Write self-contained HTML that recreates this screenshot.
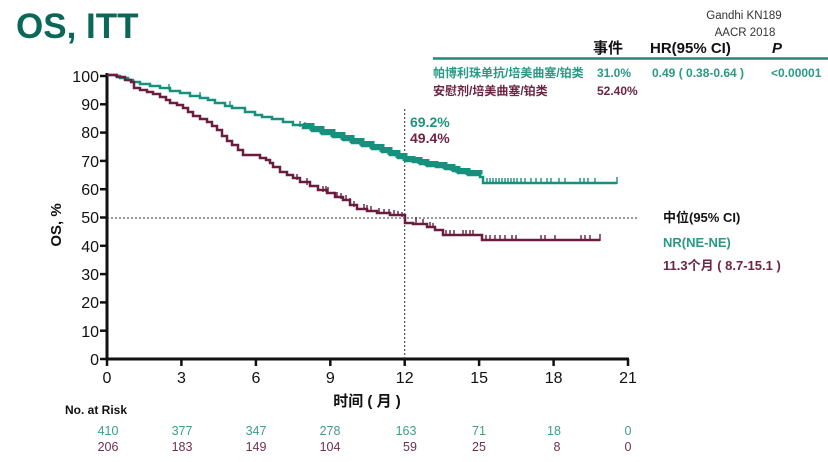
<!DOCTYPE html>
<html><head><meta charset="utf-8"><style>
html,body{margin:0;padding:0;background:#fff;}
svg{display:block;}
text{font-family:"Liberation Sans","Noto Sans CJK SC",sans-serif;}
</style></head><body>
<svg width="828" height="462" viewBox="0 0 828 462" xmlns="http://www.w3.org/2000/svg">
<rect width="828" height="462" fill="#fff"/>
<!-- title -->
<text x="16" y="38" font-size="35" font-weight="bold" fill="#0b6757">OS, ITT</text>
<text x="744" y="19" font-size="11.5" fill="#333" text-anchor="middle">Gandhi KN189</text>
<text x="745" y="36" font-size="11.5" fill="#333" text-anchor="middle">AACR 2018</text>
<!-- table header -->
<text x="593" y="53" font-size="15" font-weight="bold" fill="#111">事件</text>
<text x="650" y="53" font-size="15" font-weight="bold" fill="#111">HR(95% CI)</text>
<text x="772" y="53" font-size="15" font-weight="bold" font-style="italic" fill="#111">P</text>
<line x1="433" y1="58.5" x2="828" y2="58.5" stroke="#1f8a78" stroke-width="2.5"/>
<text x="433" y="77" font-size="12" font-weight="bold" fill="#2a9a85">帕博利珠单抗/培美曲塞/铂类</text>
<text x="597" y="77" font-size="12" font-weight="bold" fill="#2a9a85">31.0%</text>
<text x="652" y="77" font-size="12" font-weight="bold" fill="#2a9a85">0.49 ( 0.38-0.64 )</text>
<text x="771" y="77" font-size="12" font-weight="bold" fill="#2a9a85">&lt;0.00001</text>
<text x="433" y="95" font-size="12" font-weight="bold" fill="#6e2545">安慰剂/培美曲塞/铂类</text>
<text x="597" y="95" font-size="12" font-weight="bold" fill="#6e2545">52.40%</text>

<!-- axes -->
<line x1="107" y1="73" x2="107" y2="360.5" stroke="#111" stroke-width="3"/>
<line x1="105.5" y1="359" x2="629" y2="359" stroke="#111" stroke-width="3"/>
<g stroke="#111" stroke-width="2.5">
<line x1="100" y1="76" x2="107" y2="76"/>
<line x1="100" y1="104.3" x2="107" y2="104.3"/>
<line x1="100" y1="132.6" x2="107" y2="132.6"/>
<line x1="100" y1="160.9" x2="107" y2="160.9"/>
<line x1="100" y1="189.2" x2="107" y2="189.2"/>
<line x1="100" y1="217.5" x2="107" y2="217.5"/>
<line x1="100" y1="245.8" x2="107" y2="245.8"/>
<line x1="100" y1="274.1" x2="107" y2="274.1"/>
<line x1="100" y1="302.4" x2="107" y2="302.4"/>
<line x1="100" y1="330.7" x2="107" y2="330.7"/>
<line x1="100" y1="359" x2="107" y2="359"/>
<line x1="107" y1="359" x2="107" y2="366"/>
<line x1="181.4" y1="359" x2="181.4" y2="366"/>
<line x1="255.9" y1="359" x2="255.9" y2="366"/>
<line x1="330.3" y1="359" x2="330.3" y2="366"/>
<line x1="404.7" y1="359" x2="404.7" y2="366"/>
<line x1="479.1" y1="359" x2="479.1" y2="366"/>
<line x1="553.6" y1="359" x2="553.6" y2="366"/>
<line x1="628" y1="359" x2="628" y2="366"/>
</g>
<g font-size="16" fill="#111" text-anchor="end">
<text x="99" y="82">100</text>
<text x="99" y="110">90</text>
<text x="99" y="138">80</text>
<text x="99" y="167">70</text>
<text x="99" y="195">60</text>
<text x="99" y="223">50</text>
<text x="99" y="252">40</text>
<text x="99" y="280">30</text>
<text x="99" y="308">20</text>
<text x="99" y="337">10</text>
<text x="99" y="365">0</text>
</g>
<g font-size="16" fill="#111" text-anchor="middle">
<text x="107" y="383">0</text>
<text x="181.4" y="383">3</text>
<text x="255.9" y="383">6</text>
<text x="330.3" y="383">9</text>
<text x="404.7" y="383">12</text>
<text x="479.1" y="383">15</text>
<text x="553.6" y="383">18</text>
<text x="628" y="383">21</text>
</g>
<text x="367" y="406" font-size="15" font-weight="bold" fill="#111" text-anchor="middle">时间 ( 月 )</text>
<text transform="translate(61,225) rotate(-90)" font-size="15" font-weight="bold" fill="#111" text-anchor="middle">OS, %</text>

<!-- reference lines -->
<line x1="107" y1="218" x2="637" y2="218" stroke="#333" stroke-width="1" stroke-dasharray="2,2"/>
<line x1="404.7" y1="109" x2="404.7" y2="359" stroke="#333" stroke-width="1" stroke-dasharray="2,2"/>

<!-- teal curve -->
<g fill="none" stroke="#17917e" stroke-linejoin="miter">
<path stroke-width="2.5" d="M107,75 H116 V76 H120 V78 H128 V80 H133 V82 H140 V84 H150 V86 H160 V88 H170 V91 H180 V93 H190 V96 H200 V98 H208 V100 H215 V103 H225 V106 H232 V108 H245 V112 H255 V115 H262 V117 H272 V119 H283 V122 H293 V125 H303 V128 H312 V131 H322 V134 H333 V137 H343 V140 H352 V143 H362 V146 H372 V149 H382 V152 H390 V155 H398 V158 H405 V161 H413 V162 H420 V164 H427 V166 H436 V167 H445 V169 H453 V171 H458 V173 H468 V175 H480 V177 H483 V183 H617"/>
<path stroke-width="5" d="M303,125.5 H312 V128.5 H322 V131.5 H333 V134.5 H343 V137.5 H352 V140.5 H362 V143.5 H372 V146.5 H382 V149.5 H390 V152.5 H398 V155.5 H405 V158.5 H413 V159.5 H420 V161.5 H427 V163.5 H436 V164.5 H445 V166.5 H453 V168.5 H458 V170.5 H468 V172.5 H480 V174.5"/>
<path stroke-width="1.4" d="M169,90 v-6 M200,98 v-6 M230,107 v-6 M300,127 v-6 M305,128 v-6 M318,131 v-5 M328,135 v-5 M345,140 v-5 M360,145 v-5 M375,150 v-5 M395,156 v-5 M410,161 v-5 M418,163 v-6 M425,165 v-5 M432,167 v-6 M440,168 v-5 M447,169 v-5 M455,171 v-5 M462,173 v-5 M471,175 v-5 M476,176 v-5 M487,183 v-5 M490,183 v-5 M493,183 v-5 M496,183 v-5 M499,183 v-5 M502,183 v-5 M505,183 v-5 M508,183 v-5 M511,183 v-5 M514,183 v-5 M517,183 v-5 M521,183 v-5 M525,183 v-5 M531,183 v-5 M536,183 v-5 M541,183 v-5 M547,183 v-5 M551,183 v-5 M559,183 v-5 M565,183 v-5 M580,183 v-5 M584,183 v-5 M588,183 v-5 M595,183 v-5 M617,184 v-7"/>
</g>

<!-- maroon curve -->
<g fill="none" stroke="#6a1d3e">
<path stroke-width="2.5" d="M107,75 H117 V77 H125 V80 H131 V82 H134 V88 H140 V90 H147 V92 H153 V94 H160 V97 H166 V100 H170 V103 H177 V105 H183 V108 H188 V112 H193 V116 H200 V119 H207 V122 H212 V126 H217 V130 H222 V136 H227 V141 H232 V145 H238 V150 H243 V155 H260 V158 H266 V160 H270 V163 H273 V167 H280 V172 H287 V175 H293 V178 H300 V182 H310 V186 H318 V190 H327 V193 H335 V197 H343 V200 H350 V205 H357 V209 H367 V211 H377 V213 H390 V215 H405 V218 V223 H413 V224 H427 V227 H435 V230 H443 V235 H482 V240 H600"/>
<path stroke-width="1.4" d="M297,180 v-6 M307,185 v-7 M323,192 v-6 M326,192 v-6 M328,193 v-6 M337,198 v-6 M341,199 v-6 M346,201 v-6 M350,204 v-6 M354,207 v-6 M364,210 v-6 M367,211 v-6 M371,212 v-6 M379,213 v-5 M384,214 v-5 M389,214 v-5 M394,215 v-5 M398,216 v-5 M402,217 v-5 M416,223 v-6 M423,224 v-5 M430,227 v-5 M433,228 v-5 M446,235 v-5 M450,235 v-5 M454,235 v-5 M463,235 v-5 M466,235 v-5 M470,235 v-5 M473,235 v-5 M486,240 v-5 M490,240 v-5 M495,240 v-5 M500,240 v-5 M505,240 v-5 M512,240 v-5 M516,240 v-5 M541,240 v-5 M545,240 v-5 M555,240 v-5 M581,240 v-5 M585,240 v-5 M590,240 v-5 M600,241 v-7"/>
</g>

<!-- annotations -->
<text x="410" y="127" font-size="14" font-weight="bold" fill="#1f917e">69.2%</text>
<text x="410" y="143" font-size="14" font-weight="bold" fill="#6e2545">49.4%</text>
<text x="663" y="222" font-size="13" font-weight="bold" fill="#111">中位(95% CI)</text>
<text x="663" y="247" font-size="13" font-weight="bold" fill="#2a9a85">NR(NE-NE)</text>
<text x="663" y="270" font-size="13" font-weight="bold" fill="#6e2545">11.3个月 ( 8.7-15.1 )</text>

<!-- at risk -->
<text x="65" y="414" font-size="12" font-weight="bold" fill="#111">No. at Risk</text>
<g font-size="12.5" fill="#3a9f8a" text-anchor="middle">
<text x="108" y="435">410</text>
<text x="182" y="435">377</text>
<text x="256" y="435">347</text>
<text x="330" y="435">278</text>
<text x="406" y="435">163</text>
<text x="479" y="435">71</text>
<text x="554" y="435">18</text>
<text x="628" y="435">0</text>
</g>
<g font-size="12.5" fill="#6e3050" text-anchor="middle">
<text x="108" y="451">206</text>
<text x="182" y="451">183</text>
<text x="256" y="451">149</text>
<text x="330" y="451">104</text>
<text x="410" y="451">59</text>
<text x="479" y="451">25</text>
<text x="557" y="451">8</text>
<text x="628" y="451">0</text>
</g>
</svg>
</body></html>
